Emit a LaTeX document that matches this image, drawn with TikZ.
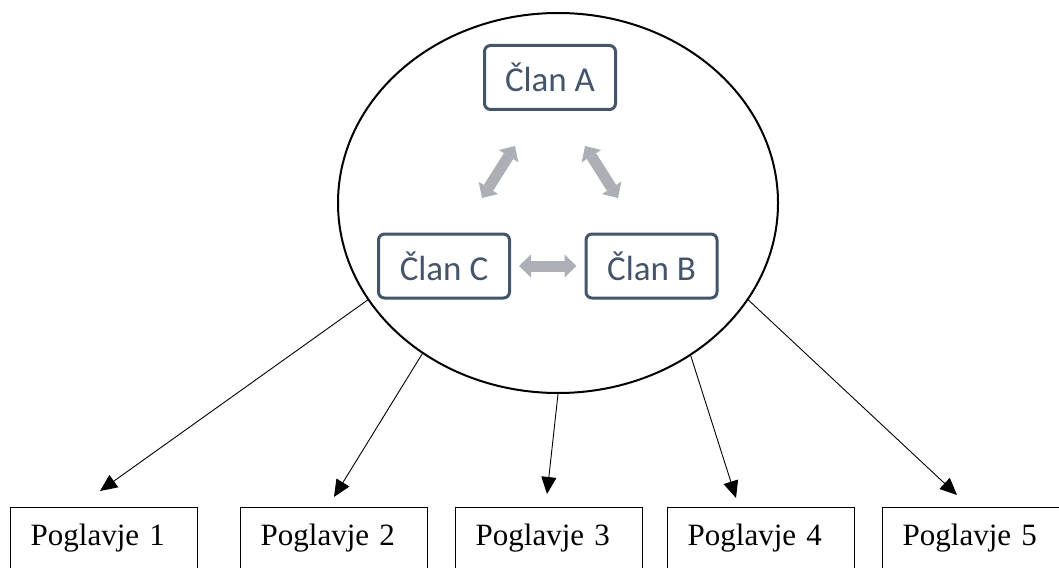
\documentclass[tikz,border=0pt]{standalone}
\usepackage{fontspec}
\setmainfont{Liberation Serif}
\newfontfamily\carlito{Carlito}
\usetikzlibrary{shapes.geometric,arrows.meta}
\definecolor{slate}{HTML}{44546A}
\definecolor{linkgray}{HTML}{ADAFB6}

\begin{document}
\begin{tikzpicture}[x=1pt,y=-1pt,
  member/.style={draw=slate, line width=3pt, rounded corners=6pt, text=slate,
    minimum width=131pt, minimum height=64pt, inner sep=0pt,
    font=\carlito\fontsize{35}{40}\selectfont},
  chapter/.style={draw, line width=1.3pt, anchor=north west, inner xsep=20pt,
    inner ysep=16.8pt, text width=147pt, align=left, text height=21.2pt,
    text depth=50pt, font=\fontsize{31}{36}\selectfont},
  link/.style={draw=linkgray, line width=11pt,
    {Triangle[length=12pt,width=23pt,line width=0pt]}-{Triangle[length=12pt,width=23pt,line width=0pt]}},
  feed/.style={line width=0.9pt, -{Triangle[length=17pt,width=15pt]}}]

\clip (0,0) rectangle (1059,567);

% team circle with its three members
\node[ellipse, draw, line width=2pt, minimum width=440pt, minimum height=380pt,
  inner sep=0pt] (team) at (558,203) {};
\node[member] (A) at (550,77.5) {Član A};
\node[member] (C) at (444,266) {Član C};
\node[member] (B) at (651.5,266) {Član B};

% two-way links between members
\coordinate (acLow) at (482,198);
\coordinate (acHigh) at (515,146);
\coordinate (abHigh) at (585,146);
\coordinate (abLow) at (618,198);
\draw[link] (acLow) -- (acHigh);
\draw[link] (abHigh) -- (abLow);
\draw[link, shorten <=8pt, shorten >=8pt] (C.east) -- (B.west);

% chapters (the last one runs past the right edge)
\node[chapter] (p1) at (10,507) {Poglavje 1};
\node[chapter] (p2) at (240,507) {Poglavje 2};
\node[chapter] (p3) at (455,507) {Poglavje 3};
\node[chapter] (p4) at (667,507) {Poglavje 4};
\node[chapter] (p5) at (882,507) {Poglavje 5};

% arrows from the team to the chapters
\coordinate (t1) at (100,491);
\coordinate (t2) at (334,497);
\coordinate (t3) at (547,494);
\coordinate (t4) at (736,498);
\coordinate (t5) at (957,495);
\draw[feed] (team.207.5) -- (t1);
\draw[feed] (team.228.8) -- (t2);
\draw[feed] (team.270) -- (t3);
\draw[feed] (team.311) -- (t4);
\draw[feed] (team.333) -- (t5);
\end{tikzpicture}
\end{document}
